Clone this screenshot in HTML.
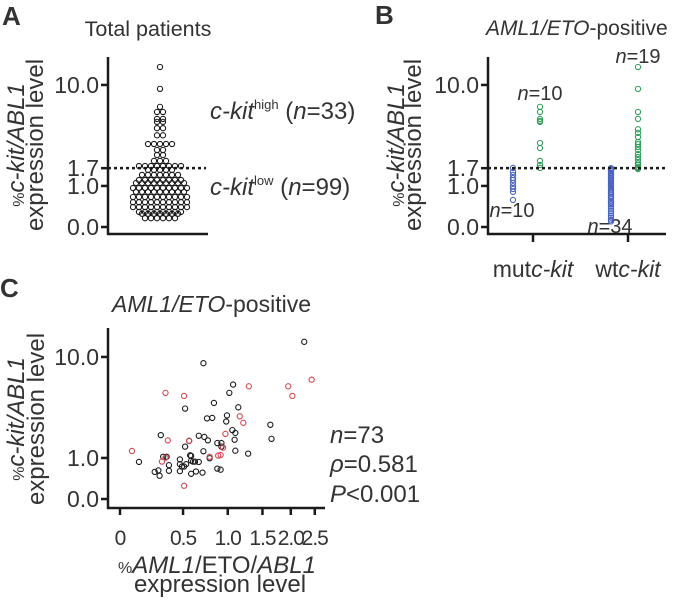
<!DOCTYPE html>
<html><head><meta charset="utf-8">
<style>
html,body{margin:0;padding:0;background:#fff;}
svg{display:block;font-family:"Liberation Sans",Arial,sans-serif;fill:#222;}
text{fill:#333;}
</style></head>
<body>
<svg id="fig" width="674" height="604" viewBox="0 0 674 604" xmlns="http://www.w3.org/2000/svg">
  <text x="2" y="25" font-size="26" font-weight="bold">A</text>
  <text x="375" y="24" font-size="26" font-weight="bold">B</text>
  <text x="0" y="297" font-size="26" font-weight="bold">C</text>

  <g id="panelA">
    <text x="148" y="36" font-size="21.5" text-anchor="middle">Total patients</text>
    <text transform="translate(24,145) rotate(-90)" font-size="24" text-anchor="middle"><tspan font-size="16">%</tspan><tspan font-style="italic">c-kit/ABL1</tspan></text>
    <text transform="translate(43,145) rotate(-90)" font-size="24" text-anchor="middle">expression level</text>
    <text x="210" y="119" font-size="24"><tspan font-style="italic">c-kit</tspan><tspan font-size="13" dy="-10">high</tspan><tspan dy="10"> (</tspan><tspan font-style="italic">n</tspan>=33)</text>
    <text x="210" y="195" font-size="24"><tspan font-style="italic">c-kit</tspan><tspan font-size="13" dy="-10">low</tspan><tspan dy="10"> (</tspan><tspan font-style="italic">n</tspan>=99)</text>
  </g>

  <g id="panelB">
    <text x="486" y="35" font-size="21"><tspan font-style="italic">AML1/ETO</tspan>-positive</text>
    <text transform="translate(404,145) rotate(-90)" font-size="24" text-anchor="middle"><tspan font-size="16">%</tspan><tspan font-style="italic">c-kit/ABL1</tspan></text>
    <text transform="translate(421,145) rotate(-90)" font-size="24" text-anchor="middle">expression level</text>
    <text x="533" y="277" font-size="23" text-anchor="middle">mut<tspan font-style="italic">c-kit</tspan></text>
    <text x="628" y="277" font-size="23" text-anchor="middle">wt<tspan font-style="italic">c-kit</tspan></text>
    <text x="540" y="100" font-size="20" text-anchor="middle"><tspan font-style="italic">n</tspan>=10</text>
    <text x="638" y="63" font-size="20" text-anchor="middle"><tspan font-style="italic">n</tspan>=19</text>
    <text x="512" y="217" font-size="20" text-anchor="middle"><tspan font-style="italic">n</tspan>=10</text>
    <text x="610" y="233" font-size="20" text-anchor="middle"><tspan font-style="italic">n</tspan>=34</text>
  </g>

  <g id="panelC">
    <text x="112" y="312" font-size="23"><tspan font-style="italic">AML1/ETO</tspan>-positive</text>
    <text transform="translate(24,419) rotate(-90)" font-size="24" text-anchor="middle"><tspan font-size="16">%</tspan><tspan font-style="italic">c-kit/ABL1</tspan></text>
    <text transform="translate(44,419) rotate(-90)" font-size="24" text-anchor="middle">expression level</text>
    <text x="217" y="573" font-size="24" text-anchor="middle"><tspan font-size="16">%</tspan><tspan font-style="italic">AML1</tspan>/ETO/<tspan font-style="italic">ABL1</tspan></text>
    <text x="220" y="592" font-size="24" text-anchor="middle">expression level</text>
    <text x="330" y="443" font-size="24"><tspan font-style="italic">n</tspan>=73</text>
    <text x="330" y="472" font-size="24"><tspan font-style="italic">ρ</tspan>=0.581</text>
    <text x="330" y="502" font-size="24"><tspan font-style="italic">P</tspan>&lt;0.001</text>
  </g>
</svg>
<script>
const yTickValues = [0, 1, 1.7, 10];
const yTickLabels = ["0.0", "1.0", "1.7", "10.0"];
const cYTickValues = [0, 1, 10];
const cYTickLabels = ["0.0", "1.0", "10.0"];
const cXTickValues = [0, 0.5, 1, 1.5, 2, 2.5];
const cXTickLabels = ["0", "0.5", "1.0", "1.5", "2.0", "2.5"];
const cutoff = 1.7;

const totalValues = [
  13.9, 9.3, 6.6, 5.97, 5.97, 5.2, 5.2, 4.9, 4.9, 4.3, 4.3, 3.7, 3.7,
  3.06, 3.06, 3.06, 3.06, 3.06, 2.67, 2.67, 2.37, 2.37, 2.05, 2.05, 2.05,
  1.8, 1.8, 1.8, 1.8, 1.8, 1.8, 1.8, 1.8,
  1.62, 1.62, 1.62, 1.62, 1.62,
  1.41, 1.41, 1.41, 1.41, 1.41, 1.41, 1.41,
  1.21, 1.21, 1.21, 1.21, 1.21, 1.21, 1.21, 1.21,
  1.10, 1.10, 1.10, 1.10, 1.10, 1.10, 1.10, 1.10, 1.10,
  0.93, 0.93, 0.93, 0.93, 0.93, 0.93, 0.93, 0.93, 0.93, 0.93,
  0.81, 0.81, 0.81, 0.81, 0.81, 0.81, 0.81, 0.81, 0.81,
  0.66, 0.66, 0.66, 0.66, 0.66, 0.66, 0.66, 0.66, 0.66, 0.66,
  0.52, 0.52, 0.52, 0.52, 0.52, 0.52, 0.52, 0.52, 0.52, 0.52,
  0.40, 0.40, 0.40, 0.40, 0.40, 0.40, 0.40, 0.40, 0.40, 0.40,
  0.29, 0.29, 0.29, 0.29, 0.29, 0.29, 0.29, 0.29,
  0.25, 0.25, 0.25, 0.25, 0.25, 0.25, 0.25,
  0.16, 0.16, 0.16, 0.16, 0.16, 0.16
];

const bCategories = ["mutc-kit", "wtc-kit"];
const mutLow = [1.71, 1.53, 1.41, 1.29, 1.21, 1.10, 0.99, 0.90, 0.81, 0.58];
const mutHigh = [6.6, 5.97, 5.2, 5.0, 4.9, 3.13, 2.79, 2.05, 1.85, 1.71];
const wtHigh = [13.9, 9.3, 5.97, 5.2, 4.2, 3.9, 3.57, 3.2, 3.05, 2.86, 2.67, 2.43, 2.26, 2.10, 1.94, 1.85, 1.76, 1.71, 1.66];
const wtLow = [1.70, 1.66, 1.62, 1.57, 1.50, 1.46, 1.41, 1.36, 1.30, 1.27, 1.21, 1.16, 1.10, 1.05, 1.00, 0.96, 0.91, 0.86, 0.80, 0.76, 0.70, 0.66, 0.61, 0.55, 0.50, 0.46, 0.41, 0.36, 0.31, 0.26, 0.21, 0.17, 0.13, 0.10];

const cBlackX = [2.27, 0.71, 1.07, 1.02, 0.83, 0.52, 1.14, 0.75, 0.81, 0.99, 0.98, 1.63, 1.06, 1.10, 0.30, 0.66, 0.72, 0.76, 1.09, 1.65, 0.56, 0.52, 0.87, 0.92, 0.92, 0.71, 1.10, 1.28, 0.32, 0.35, 0.47, 0.58, 0.78, 0.13, 0.47, 0.53, 0.58, 0.62, 0.66, 0.51, 0.49, 0.37, 0.37, 0.47, 0.25, 0.28, 0.29, 0.58, 0.63, 0.70, 0.87, 0.91, 0.57, 0.60];
const cBlackY = [13.2, 8.9, 5.9, 5.0, 4.06, 3.6, 3.7, 2.9, 2.93, 3.1, 2.7, 2.5, 2.2, 2.05, 1.94, 1.91, 1.85, 1.69, 1.72, 1.76, 1.67, 1.42, 1.57, 1.57, 1.42, 1.24, 1.26, 1.15, 1.04, 1.04, 0.95, 1.07, 0.99, 0.87, 0.80, 0.80, 0.91, 0.88, 0.87, 0.73, 0.73, 0.77, 0.61, 0.60, 0.58, 0.62, 0.48, 0.53, 0.59, 0.56, 0.67, 0.64, 1.09, 0.88];
const cRedX = [0.34, 0.51, 1.29, 1.95, 2.03, 2.43, 0.36, 0.56, 1.16, 1.21, 0.97, 0.94, 0.08, 0.34, 0.31, 0.78, 0.88, 0.91, 0.51];
const cRedY = [5.0, 4.7, 5.7, 5.7, 4.7, 6.5, 1.69, 1.66, 3.04, 2.62, 2.0, 1.38, 1.25, 1.01, 0.88, 1.04, 1.08, 1.10, 0.25];

const NS = "http://www.w3.org/2000/svg";
const svg = document.getElementById("fig");
function mk(tag, attrs, parent) {
  const e = document.createElementNS(NS, tag);
  for (const k in attrs) e.setAttribute(k, attrs[k]);
  (parent || svg).appendChild(e);
  return e;
}
const INK = "#1a1a1a";
const RED = "#d9474f", GREEN = "#2f9e58", BLUE = "#4a64c0";

function yA(v) { return 227 - 136.4 * Math.log10(1 + v); }
function yC(v) { return 499 - 136.4 * Math.log10(1 + v); }
function xC(v) { return 120 + 358 * Math.log10(1 + v); }
const xB = { "mutc-kit": 533, "wtc-kit": 628 };

function yAxis(x, yTop, yBot, vals, labels, scale, prefix) {
  const ax = mk("line", { x1: x, y1: yTop, x2: x, y2: yBot, stroke: INK, "stroke-width": 2.5 });
  
  
  vals.forEach((v, i) => {
    const y = scale(v);
    const t = mk("line", { x1: x - 7, y1: y, x2: x, y2: y, stroke: INK, "stroke-width": 2.5 });
    
    
    const lb = mk("text", { x: x - 9, y: y + 8, "font-size": 23, "text-anchor": "end" });
    lb.textContent = labels[i];
    
    
  });
}
function dot(cx, cy, color, name) {
  const c = mk("circle", { cx: cx, cy: cy, r: 2.6, fill: "none", stroke: color, "stroke-width": 1.1 });
  
  
  return c;
}

yAxis(108, 57, 235, yTickValues, yTickLabels, yA, "panel-a");
let xa = mk("line", { x1: 107, y1: 234, x2: 208, y2: 234, stroke: INK, "stroke-width": 2.5 });


let cutA = mk("line", { x1: 108, y1: yA(cutoff), x2: 206, y2: yA(cutoff), stroke: INK, "stroke-width": 2.5, "stroke-dasharray": "3,3" });


const groups = {};
totalValues.forEach(v => { (groups[v] = groups[v] || []).push(v); });
Object.keys(groups).forEach(k => {
  const n = groups[k].length;
  const y = yA(parseFloat(k));
  for (let i = 0; i < n; i++) {
    dot(160 + (i - (n - 1) / 2) * 6, y, INK, 'total-patient-point');
  }
});

yAxis(488, 57, 235, yTickValues, yTickLabels, yA, "panel-b");
let xb = mk("line", { x1: 487, y1: 234, x2: 666, y2: 234, stroke: INK, "stroke-width": 2.5 });


bCategories.forEach(c => {
  const t = mk("line", { x1: xB[c], y1: 234, x2: xB[c], y2: 242, stroke: INK, "stroke-width": 2.5 });
  
  
});
mutLow.forEach(v => dot(xB["mutc-kit"] - 20, yA(v), BLUE, 'mut-low-point'));
mutHigh.forEach(v => dot(xB["mutc-kit"] + 7, yA(v), GREEN, 'mut-high-point'));
wtLow.forEach(v => dot(xB["wtc-kit"] - 17, yA(v), BLUE, 'wt-low-point'));
wtHigh.forEach(v => dot(xB["wtc-kit"] + 10, yA(v), GREEN, 'wt-high-point'));
let cutB = mk("line", { x1: 488, y1: yA(cutoff), x2: 666, y2: yA(cutoff), stroke: INK, "stroke-width": 2.5, "stroke-dasharray": "3,3" });



yAxis(108, 328, 509, cYTickValues, cYTickLabels, yC, "panel-c");
let xc = mk("line", { x1: 107, y1: 508, x2: 325, y2: 508, stroke: INK, "stroke-width": 2.5 });


cXTickValues.forEach((v, i) => {
  const x = xC(v);
  const t = mk("line", { x1: x, y1: 508, x2: x, y2: 515, stroke: INK, "stroke-width": 2.5 });
  
  
  const lb = mk("text", { x: x, y: 545, "font-size": 21, "text-anchor": "middle", "letter-spacing": "-1" });
  lb.textContent = cXTickLabels[i];
  
  
});
cBlackX.forEach((v, i) => dot(xC(v), yC(cBlackY[i]), INK, 'wt-scatter-point'));
cRedX.forEach((v, i) => dot(xC(v), yC(cRedY[i]), RED, 'mut-scatter-point'));
</script>
</body></html>
